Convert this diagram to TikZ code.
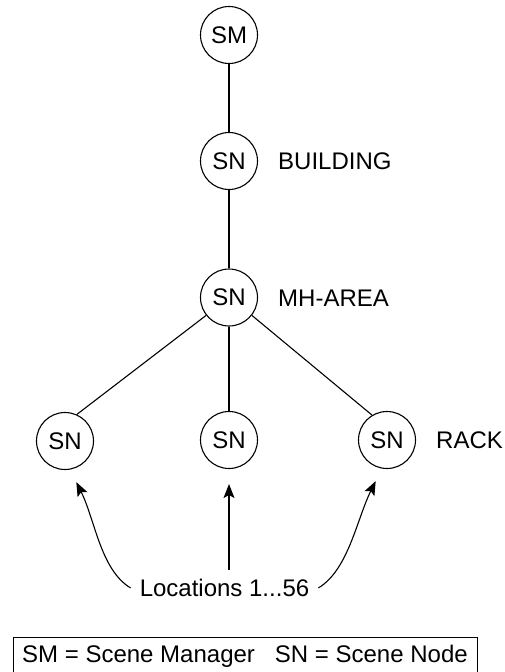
\documentclass[tikz,border=0pt]{standalone}
\usepackage{fontspec}
\setmainfont{Liberation Sans}
\usetikzlibrary{arrows.meta}
\begin{document}
\begin{tikzpicture}[x=1pt,y=-1pt,
  txt/.style={font=\fontsize{24}{28}\selectfont},
  nd/.style={draw, circle, line width=1.1pt, minimum size=57pt, inner sep=0pt, txt},
  lbl/.style={anchor=base west, inner sep=0pt, txt},
  edge/.style={line width=1.1pt},
  arr/.style={line width=1.1pt, -{Stealth[length=14pt,width=11pt,inset=3pt]}}]
\useasboundingbox (0,0) rectangle (504,672);
% tree nodes
\node[nd] (sm) at (229,35) {SM};
\node[nd] (b)  at (229,161) {SN};
\node[nd] (mh) at (229,297.5) {SN};
\node[nd] (l)  at (65,441) {SN};
\node[nd] (m)  at (229,440) {SN};
\node[nd] (r)  at (387,440) {SN};
% labels
\node[lbl] (lb) at (278,169.5) {BUILDING};
\node[lbl] (lmh) at (278,306) {MH-AREA};
\node[lbl] (lr) at (436,448.5) {RACK};
% edges
\draw[edge] (sm) -- (b);
\draw[edge] (b) -- (mh);
\draw[edge] (mh) -- (m);
\draw[edge] (mh.218) -- (l.66);
\draw[edge] (mh.322) -- (r.121);
% locations
\node[txt, anchor=base, inner sep=9pt] (loc) at (224.5,596.5) {Locations 1...56};
\draw[arr, shorten >=14pt] (loc.west) .. controls +(-30,-18) and +(25,50) .. (l.-80);
\draw[arr, shorten >=15pt] (m.south |- loc.north) -- (m.south);
\draw[arr, shorten >=14pt] (loc.east) .. controls +(30,-18) and +(-25,50) .. (r.-100);
% key box
\node[draw, line width=1.1pt, anchor=north west, inner sep=0pt, minimum width=464pt, minimum height=50pt] (key) at (13,637) {};
\node[lbl] (keytxt) at (22,662) {SM = Scene Manager\hspace{20pt}SN = Scene Node};
\end{tikzpicture}
\end{document}
